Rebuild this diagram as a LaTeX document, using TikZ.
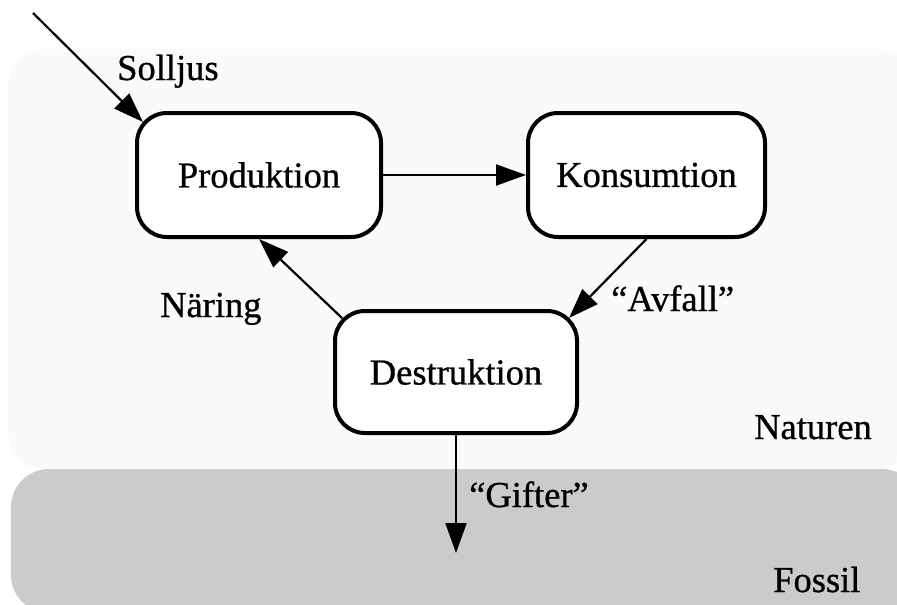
\documentclass[tikz,border=0pt]{standalone}
\usepackage{fontspec}
\setmainfont{Liberation Serif}[RawFeature={embolden=0.8}]
\usetikzlibrary{arrows.meta,calc}
\definecolor{naturebg}{HTML}{FAFAFA}
\definecolor{fossilbg}{HTML}{CBCBCB}
\begin{document}
\begin{tikzpicture}[x=1pt,y=-1pt,
  stage/.style={draw, line width=4pt, rounded corners=30pt, fill=white,
    minimum width=244pt, minimum height=124pt, inner sep=0pt,
    font=\fontsize{36.5}{42}\selectfont},
  flow/.style={line width=2.2pt, -{Triangle[length=30pt,width=21pt]}},
  txt/.style={anchor=base west, inner sep=0pt, font=\fontsize{36.5}{42}\selectfont}]

\useasboundingbox (0,0) rectangle (897,605);

% background zones: nature above, fossil layer below
\begin{scope}
  \clip (0,0) rectangle (897,605);
  \fill[naturebg, rounded corners=36pt] (8,49) rectangle (913,469);
  \fill[fossilbg, rounded corners=38pt] (11,469) rectangle (920,613);
\end{scope}

% the three stages of the cycle
\node[stage] (prod) at (259,175) {Produktion};
\node[stage, minimum width=237pt] (kons) at (646.5,175) {Konsumtion};
\node[stage, minimum width=242pt, minimum height=122pt] (dest) at (456,372) {Destruktion};

% free ends of the incoming and outgoing flows
\coordinate (sun) at (33,13);
\coordinate (sink) at (456,553);

% flows
\draw[flow] (sun) -- ($(prod.north west)+(8,11)$);
\draw[flow] (prod.east) -- (kons.west);
\draw[flow] (kons.south) -- ($(dest.north east)+(-10,9)$);
\draw[flow] ($(dest.north west)+(9,9)$) -- (prod.south);
\draw[flow] (dest.south) -- (sink);

% labels
\node[txt] (solljus) at (117,80) {Solljus};
\node[txt] (naring) at (160,317) {Näring};
\node[txt] (avfall) at (611,311) {“Avfall”};
\node[txt] (gifter) at (469,507) {“Gifter”};
\node[txt] (naturen) at (754,439) {Naturen};
\node[txt] (fossil) at (773,592) {Fossil};
\end{tikzpicture}
\end{document}
